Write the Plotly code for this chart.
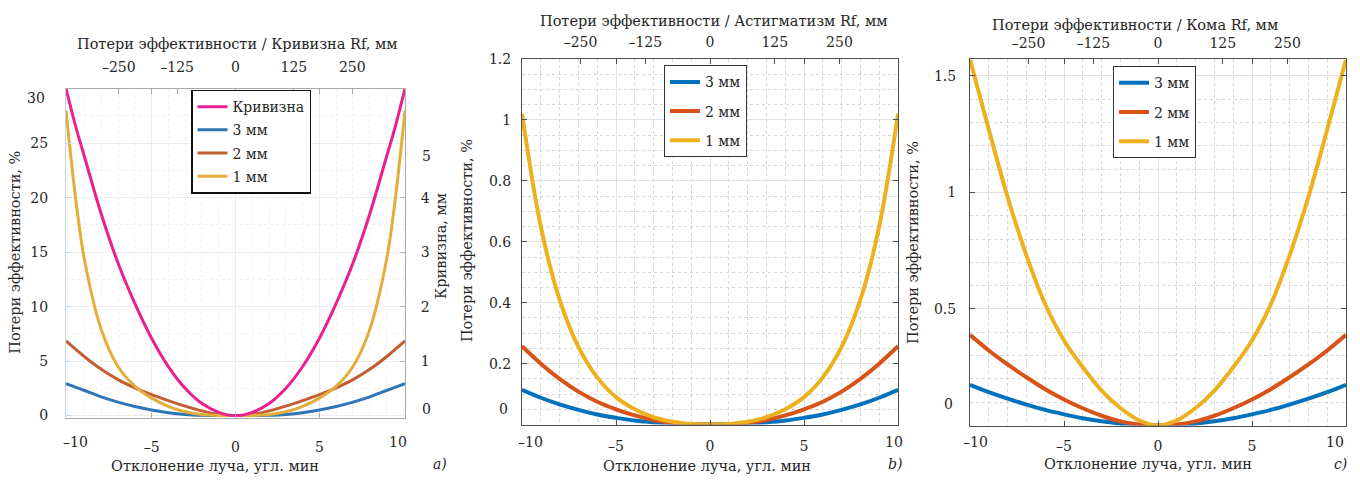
import plotly.graph_objects as go

FONT = "DejaVu Serif"
TXT = "#262626"
W, H = 1360, 483


def fx(p):
    return p / W


def fy(p):
    return 1 - p / H


# ---------------- data ----------------
# a) Кривизна
xa = [-10.1, -9.5, -9, -8, -7, -6, -5, -4, -3, -2, -1, 0, 1, 2, 3, 4, 5, 6, 7, 8, 9, 9.5, 10.1]
a_curv_mm = [6.0, 5.28, 4.75, 3.7, 2.8, 2.06, 1.42, 0.9, 0.5, 0.22, 0.06, 0.0,
             0.06, 0.22, 0.5, 0.9, 1.42, 2.06, 2.8, 3.7, 4.75, 5.28, 6.0]
a_3mm = [2.92, 2.58, 2.3, 1.72, 1.24, 0.84, 0.52, 0.27, 0.11, 0.035, 0.005, 0.0,
         0.005, 0.035, 0.11, 0.27, 0.52, 0.84, 1.24, 1.72, 2.3, 2.58, 2.92]
a_2mm = [6.85, 6.05, 5.4, 4.25, 3.3, 2.55, 1.93, 1.38, 0.87, 0.43, 0.11, 0.0,
         0.11, 0.43, 0.87, 1.38, 1.93, 2.55, 3.3, 4.25, 5.4, 6.05, 6.85]
a_1mm = [28.0, 19.6, 14.3, 7.9, 4.5, 2.7, 1.6, 0.85, 0.35, 0.1, 0.015, 0.0,
         0.015, 0.1, 0.35, 0.85, 1.6, 2.7, 4.5, 7.9, 14.3, 19.6, 28.0]

# b) Астигматизм
xb = [-10, -9, -8, -7, -6, -5, -4, -3, -2, -1, 0, 1, 2, 3, 4, 5, 6, 7, 8, 9, 10]
b_3mm = [0.114, 0.088, 0.066, 0.048, 0.033, 0.022, 0.013, 0.007, 0.003, 0.001, 0.0,
         0.001, 0.003, 0.007, 0.013, 0.022, 0.033, 0.048, 0.066, 0.088, 0.114]
b_2mm = [0.257, 0.2, 0.15, 0.108, 0.075, 0.05, 0.03, 0.015, 0.006, 0.001, 0.0,
         0.001, 0.006, 0.015, 0.03, 0.05, 0.075, 0.108, 0.15, 0.2, 0.257]
b_1mm = [1.02, 0.65, 0.41, 0.255, 0.155, 0.09, 0.05, 0.024, 0.009, 0.002, 0.0,
         0.002, 0.009, 0.024, 0.05, 0.09, 0.155, 0.255, 0.41, 0.65, 1.02]

# c) Кома
xc = [-10, -9, -8, -7, -6, -5, -4, -3, -2, -1, 0, 1, 2, 3, 4, 5, 6, 7, 8, 9, 10]
c_3mm = [0.175, 0.143, 0.115, 0.09, 0.067, 0.048, 0.031, 0.018, 0.008, 0.002, 0.0,
         0.002, 0.008, 0.018, 0.031, 0.048, 0.067, 0.09, 0.115, 0.143, 0.175]
c_2mm = [0.389, 0.322, 0.262, 0.207, 0.156, 0.112, 0.074, 0.042, 0.018, 0.005, 0.0,
         0.005, 0.018, 0.042, 0.074, 0.112, 0.156, 0.207, 0.262, 0.322, 0.389]
c_1mm = [1.57, 1.27, 0.98, 0.73, 0.52, 0.365, 0.25, 0.15, 0.075, 0.022, 0.0,
         0.022, 0.075, 0.15, 0.25, 0.365, 0.52, 0.73, 0.98, 1.27, 1.57]

top_ticks = [-250, -125, 0, 125, 250]
top_text = ["–250", "–125", "0", "125", "250"]
x_ticks = [-5, 0, 5]
x_text = ["–5", "0", "5"]

A_COL = {"curv": "#EB1F8F", "3": "#2F74B6", "2": "#C35F33", "1": "#E4AD3B"}
M_COL = {"3": "#0072BD", "2": "#D95319", "1": "#EDB120"}

fig = go.Figure()

# ---- panel a traces
fig.add_trace(go.Scatter(x=xa, y=a_curv_mm, name="Кривизна", mode="lines",
                         line=dict(color=A_COL["curv"], width=3, shape="spline", smoothing=1.0),
                         xaxis="x", yaxis="y2", legend="legend", legendgroup="a0"))
for key, ys in (("3", a_3mm), ("2", a_2mm), ("1", a_1mm)):
    fig.add_trace(go.Scatter(x=xa, y=ys, name=f"{key} мм", mode="lines",
                             line=dict(color=A_COL[key], width=3, shape="spline", smoothing=1.0),
                             xaxis="x", yaxis="y", legend="legend", legendgroup="a" + key))

# ---- panel b traces
for key, ys in (("3", b_3mm), ("2", b_2mm), ("1", b_1mm)):
    fig.add_trace(go.Scatter(x=xb, y=ys, name=f"{key} мм", mode="lines",
                             line=dict(color=M_COL[key], width=4, shape="spline", smoothing=1.0),
                             xaxis="x2", yaxis="y3", legend="legend2", legendgroup="b" + key))

# ---- panel c traces
for key, ys in (("3", c_3mm), ("2", c_2mm), ("1", c_1mm)):
    fig.add_trace(go.Scatter(x=xc, y=ys, name=f"{key} мм", mode="lines",
                             line=dict(color=M_COL[key], width=4, shape="spline", smoothing=1.0),
                             xaxis="x3", yaxis="y4", legend="legend3", legendgroup="c" + key))

# invisible traces to anchor the top axes
for xa_name, ya_name in (("x4", "y"), ("x5", "y3"), ("x6", "y4")):
    fig.add_trace(go.Scatter(x=[0], y=[None], xaxis=xa_name, yaxis=ya_name,
                             showlegend=False, hoverinfo="skip", mode="lines"))

tf = dict(family=FONT, size=14, color=TXT)

# domains (reference pixel positions)
dom_a_x = [fx(66), fx(405)]
dom_a_y = [fy(422), fy(83)]
dom_b_x = [fx(522), fx(898)]
dom_b_y = [fy(429), fy(52.5)]
dom_c_x = [fx(970), fx(1346)]
dom_c_y = [fy(430), fy(53)]

DARK = "#4d4d4d"
MAJ = "#e2e2e2"
MIN = "#d6d6d6"


def xbottom(dom, anchor, rng, standoff, linecolor=DARK, grid=MAJ, mgrid=MIN):
    return dict(domain=dom, anchor=anchor, range=rng, tickmode="array",
                tickvals=x_ticks, ticktext=x_text, ticks="inside", ticklen=5,
                tickcolor=linecolor, showline=True, linecolor=linecolor, linewidth=1,
                mirror="ticks", showgrid=True, gridcolor=grid, gridwidth=1,
                zeroline=False, tickfont=tf, ticklabelstandoff=standoff,
                minor=dict(dtick=1, tick0=0, showgrid=True, griddash="dot",
                           gridcolor=mgrid, gridwidth=1, ticks=""))


def xtop(over, anchor, standoff, linecolor=DARK):
    return dict(overlaying=over, anchor=anchor, side="top", range=[-363, 363],
                tickmode="array", tickvals=top_ticks, ticktext=top_text,
                ticks="inside", ticklen=5, tickcolor=linecolor, showline=True,
                linecolor=linecolor, linewidth=1, showgrid=False, zeroline=False,
                tickfont=tf, ticklabelstandoff=standoff)


def yleft(dom, anchor, rng, vals, texts, standoff, mdt, linecolor=DARK,
          grid=MAJ, mgrid=MIN, mirror="ticks"):
    return dict(domain=dom, anchor=anchor, range=rng, tickmode="array",
                tickvals=vals, ticktext=texts, ticks="inside", ticklen=5,
                tickcolor=linecolor, showline=True, linecolor=linecolor,
                linewidth=1, mirror=mirror, showgrid=True, gridcolor=grid,
                gridwidth=1, zeroline=False, tickfont=tf, ticklabelstandoff=standoff,
                minor=dict(dtick=mdt, tick0=0, showgrid=True, griddash="dot",
                           gridcolor=mgrid, gridwidth=1, ticks=""))


A_LINE = "#a9a9a9"
fig.update_layout(
    xaxis=xbottom(dom_a_x, "y", [-10.1, 10.1], 16, linecolor=A_LINE,
                  grid="#ececec", mgrid="#f1f1f1"),
    yaxis=yleft(dom_a_y, "x", [-0.2, 30], [0, 5, 10, 15, 20, 25],
                ["0", "5", "10", "15", "20", "25"], 14, 2.5, linecolor="#c3d7e8",
                grid="#ececec", mgrid="#f1f1f1", mirror=False),
    yaxis2=dict(overlaying="y", anchor="x", side="right", range=[-0.04, 6.0],
                tickmode="array", tickvals=[1, 2, 3, 4], ticktext=["1", "2", "3", "4"],
                ticks="inside", ticklen=5, tickcolor="#bbbbbb", showline=True,
                linecolor=A_LINE, linewidth=1, showgrid=False, zeroline=False,
                tickfont=tf, ticklabelstandoff=12),
    xaxis4=xtop("x", "y", 10, linecolor=A_LINE),
    xaxis2=xbottom(dom_b_x, "y3", [-10, 10], 9),
    yaxis3=yleft(dom_b_y, "x2", [0, 1.2], [0.2, 0.4, 0.6, 0.8, 1.0, 1.2],
                 ["0.2", "0.4", "0.6", "0.8", "1", "1.2"], 7, 0.05),
    xaxis5=xtop("x2", "y3", 5),
    xaxis3=xbottom(dom_c_x, "y4", [-10, 10], 8),
    yaxis4=yleft(dom_c_y, "x3", [0, 1.57], [0.5, 1.0, 1.5],
                 ["0.5", "1", "1.5"], 10, 0.1),
    xaxis6=xtop("x3", "y4", 5),
)

leg_common = dict(xanchor="left", yanchor="top", bgcolor="white",
                  font=dict(family=FONT, size=14, color=TXT),
                  traceorder="grouped", itemwidth=30)
fig.update_layout(
    legend=dict(x=fx(191), y=fy(84), bordercolor="#111111", borderwidth=1.5,
                tracegroupgap=2, **leg_common),
    legend2=dict(x=fx(664), y=fy(59), bordercolor="#333333", borderwidth=1,
                 tracegroupgap=8, **leg_common),
    legend3=dict(x=fx(1113), y=fy(60), bordercolor="#333333", borderwidth=1,
                 tracegroupgap=8, **leg_common),
)

ann = []


def add_text(text, X, Y, xanchor="center", angle=0, italic=False, size=14):
    ann.append(dict(text=text, x=fx(X), y=fy(Y), xref="paper", yref="paper",
                    xanchor=xanchor, yanchor="middle", showarrow=False,
                    textangle=angle,
                    font=dict(family=FONT, size=size, color=TXT,
                              style="italic" if italic else "normal")))


TS = 14.5
# panel a
add_text("Потери эффективности / Кривизна Rf, мм", 237, 37, size=TS)
add_text("Отклонение луча, угл. мин", 215, 472, size=TS)
add_text("Потери эффективности, %", 15, 252, angle=-90, size=TS)
add_text("Кривизна, мм", 441, 245, angle=-90, size=TS)
add_text("a)", 440, 470, italic=True)
add_text("–10", 75, 447)
add_text("10", 398, 447)
add_text("30", 47, 93, xanchor="right")
add_text("0", 420, 413, xanchor="left")
add_text("5", 420, 152, xanchor="left")

# panel b
add_text("Потери эффективности / Астигматизм Rf, мм", 713, 13, size=TS)
add_text("Отклонение луча, угл. мин", 707, 472, size=TS)
add_text("Потери эффективности, %", 467, 240, angle=-90, size=TS)
add_text("b)", 895, 470, italic=True)
add_text("–10", 530, 447)
add_text("10", 894, 447)
add_text("0", 510, 413, xanchor="right")

# panel c
add_text("Потери эффективности / Кома Rf, мм", 1135, 18, size=TS)
add_text("Отклонение луча, угл. мин", 1148, 470, size=TS)
add_text("Потери эффективности, %", 913, 241, angle=-90, size=TS)
add_text("c)", 1340, 470, italic=True)
add_text("–10", 975, 447)
add_text("10", 1335, 447)
add_text("0", 955, 408, xanchor="right")

fig.update_layout(annotations=ann, width=W, height=H, autosize=False,
                  margin=dict(l=0, r=0, t=0, b=0), plot_bgcolor="white",
                  paper_bgcolor="white", font=dict(family=FONT, size=14, color=TXT))

# pin the figure to the page's top-left corner (no body margin, no scrolling)
PIN = ("var gd=document.getElementById('{plot_id}');"
       "gd.style.position='fixed';gd.style.left='0px';gd.style.top='0px';"
       "document.body.style.margin='0px';document.body.style.overflow='hidden';"
       "document.documentElement.style.overflow='hidden';")

fig.write_html("out.html", post_script=PIN,
               config={"displayModeBar": False, "staticPlot": True})
